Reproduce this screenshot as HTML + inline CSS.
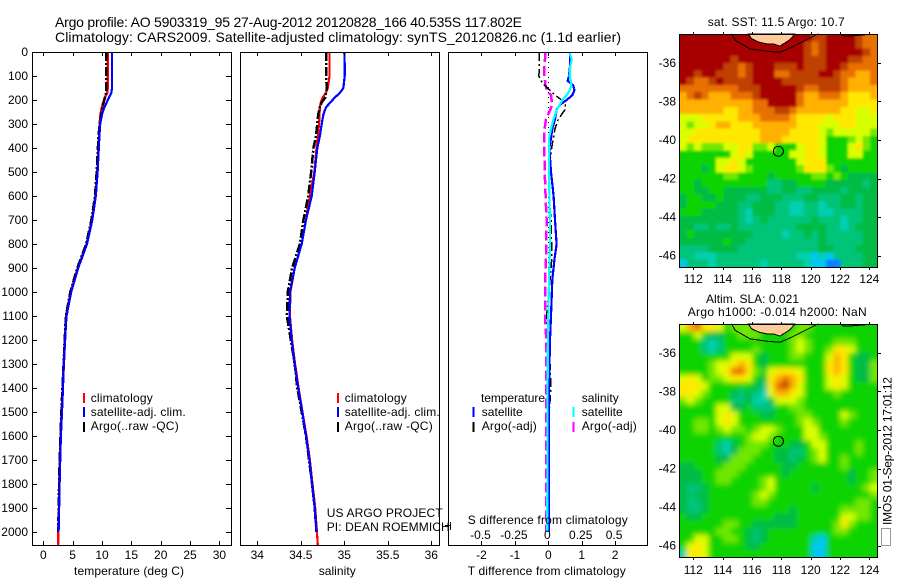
<!DOCTYPE html>
<html lang="en">
<head>
<meta charset="utf-8">
<title>Argo profile 5903319_95</title>
<style>
html,body{margin:0;padding:0;background:#fff;}
svg{display:block;font-family:"Liberation Sans",sans-serif;font-size:12px;fill:#000;}
text{fill:#000;}
</style>
</head>
<body>
<svg id="chart" xmlns="http://www.w3.org/2000/svg" width="900" height="580" viewBox="0 0 900 580" shape-rendering="crispEdges">
<defs>
<filter id="blur-sst" x="-5%" y="-5%" width="110%" height="110%"><feGaussianBlur stdDeviation="1.3"/></filter>
<filter id="blur-sla" x="-5%" y="-5%" width="110%" height="110%"><feGaussianBlur stdDeviation="2.6"/></filter>
<clipPath id="clip-sst"><rect x="679" y="34" width="198" height="233"/></clipPath>
<clipPath id="clip-sla"><rect x="679" y="324" width="198" height="233"/></clipPath>
</defs>
<rect x="0" y="0" width="900" height="580" fill="#fff"/>
<g id="layer-maps"></g>
<g id="layer-profiles"></g>

<text x="55" y="27" font-size="14" textLength="467">Argo profile: AO 5903319_95 27-Aug-2012 20120828_166 40.535S 117.802E</text>
<text x="55" y="42" font-size="14" textLength="566">Climatology: CARS2009. Satellite-adjusted climatology: synTS_20120826.nc (1.1d earlier)</text>

<text x="74" y="575" textLength="110">temperature (deg C)</text>
<text x="318.7" y="575" textLength="37">salinity</text>
<text x="467.7" y="575" textLength="158">T difference from climatology</text>
<text x="467.7" y="524" textLength="160">S difference from climatology</text>

<g>
<line x1="84" x2="84" y1="393" y2="403" stroke="#f00" stroke-width="2"/>
<text x="90.7" y="402" textLength="62">climatology</text>
<line x1="84" x2="84" y1="407" y2="417" stroke="#00f" stroke-width="2"/>
<text x="90.7" y="416" textLength="95">satellite-adj. clim.</text>
<line x1="84" x2="84" y1="422" y2="432" stroke="#000" stroke-width="2"/>
<text x="90.7" y="430" textLength="88">Argo(..raw -QC)</text>
</g>

<g>
<line x1="338" x2="338" y1="393" y2="403" stroke="#f00" stroke-width="2"/>
<text x="344.7" y="402" textLength="62">climatology</text>
<line x1="338" x2="338" y1="407" y2="417" stroke="#00f" stroke-width="2"/>
<text x="344.7" y="416" textLength="95">satellite-adj. clim.</text>
<line x1="338" x2="338" y1="422" y2="432" stroke="#000" stroke-width="2"/>
<text x="344.7" y="430" textLength="88">Argo(..raw -QC)</text>
</g>

<g>
<text x="481" y="402" textLength="64">temperature</text>
<line x1="473.5" x2="473.5" y1="407" y2="417" stroke="#00f" stroke-width="2"/>
<text x="481.7" y="416" textLength="41">satellite</text>
<line x1="473.5" x2="473.5" y1="422" y2="432" stroke="#000" stroke-width="2"/>
<text x="481.7" y="430" textLength="55">Argo(-adj)</text>
<text x="581.7" y="402" textLength="37">salinity</text>
<line x1="573.7" x2="573.7" y1="407" y2="417" stroke="#0ff" stroke-width="2"/>
<text x="581.7" y="416" textLength="41">satellite</text>
<line x1="573.7" x2="573.7" y1="422" y2="432" stroke="#f0f" stroke-width="2"/>
<text x="581.7" y="430" textLength="55">Argo(-adj)</text>
</g>

<text x="326.7" y="517" textLength="116">US ARGO PROJECT</text>
<text x="326.7" y="531" textLength="123">PI: DEAN ROEMMICH</text>

<path d="M445 525.5H450.5M450.5 522V530" stroke="#000" fill="none"/>

<text x="707.7" y="26" textLength="137">sat. SST: 11.5 Argo: 10.7</text>
<text x="706" y="303" textLength="93">Altim. SLA: 0.021</text>
<text x="687.7" y="316" textLength="179">Argo h1000: -0.014 h2000: NaN</text>

<rect x="881.5" y="528.5" width="9" height="17" fill="#fff" stroke="#333" stroke-dasharray="1 1"/>
<text transform="translate(891.5,525) rotate(-90)" x="0" y="0" textLength="148">IMOS 01-Sep-2012 17:01:12</text>
</svg>

<script>
// ---------- profile data ----------
const depthTicks = [0,100,200,300,400,500,600,700,800,900,1000,1100,1200,1300,1400,1500,1600,1700,1800,1900,2000];
const tempTicks = [0,5,10,15,20,25,30];
const salTicks = [34,34.5,35,35.5,36];
const tDiffTicks = [-2,-1,0,1,2];
const sDiffTicks = [-0.5,-0.25,0,0.25,0.5];
const tDiffTickLabels = ['-2','-1','0','1','2'];
const sDiffTickLabels = ['-0.5','-0.25','0','0.25','0.5'];

const profileDepths = [0,50,100,150,170,190,210,230,260,300,350,400,500,600,700,800,900,1000,1100,1200,1300,1400,1500,1600,1700,1800,1900,2000];
const climDepths = [0,50,100,150,170,190,210,230,260,300,350,400,500,600,700,800,900,1000,1100,1200,1300,1400,1500,1600,1700,1800,1900,2000,2054];

const tempClim = [11,11,11,10.95,10.9,10.5,10.2,10,9.75,9.6,9.5,9.4,9.2,8.9,8.3,7.4,5.9,4.7,3.9,3.7,3.5,3.3,3.13,2.96,2.84,2.73,2.67,2.56,2.5];
const tempSat = [11.7,11.7,11.7,11.7,11.6,11.2,10.8,10.4,10,9.7,9.55,9.45,9.25,8.95,8.35,7.45,5.95,4.75,3.95,3.7,3.5,3.35,3.18,3,2.88,2.78,2.7,2.6];
const tempArgo = [10.7,10.7,10.7,10.7,10.7,10.5,10.3,10,9.9,9.6,9.4,9.3,9.1,8.8,8.2,7.3,5.8,4.6,3.85,3.65,3.45,3.25,3.08,2.93,2.8,2.7,2.63,2.53];

const salClim = [34.83,34.83,34.83,34.81,34.79,34.75,34.73,34.72,34.715,34.71,34.695,34.68,34.655,34.605,34.56,34.51,34.43,34.38,34.375,34.4,34.435,34.475,34.52,34.565,34.605,34.635,34.665,34.685,34.695];
const salSat = [35,35.005,35.005,34.99,34.95,34.89,34.84,34.79,34.76,34.74,34.72,34.69,34.66,34.625,34.56,34.51,34.43,34.376,34.37,34.395,34.43,34.47,34.517,34.56,34.6,34.63,34.66,34.68];
const salArgo = [34.79,34.79,34.79,34.8,34.79,34.78,34.74,34.72,34.7,34.69,34.675,34.645,34.62,34.585,34.53,34.49,34.4,34.35,34.34,34.385,34.43,34.46,34.51,34.56,34.595,34.63,34.66,34.68];

const diffDepths = [0,30,60,100,120,140,160,180,200,220,240,280,320,360,400,500,600,700,800,870,950,1100,1200,1400,1600,1800,2000];
const tDiffSat = [.65,.65,.65,.62,.58,.75,.78,.72,.55,.35,.25,.2,.12,.08,.03,.08,.16,.2,.25,.18,.12,.08,.05,.02,.02,.02,.02];
const tDiffArgo = [-.27,-.27,-.27,-.28,-.22,-.1,.05,.2,.4,.5,.5,.3,.2,.15,.1,.02,.02,.08,.1,.1,.05,-.05,.02,.08,-.03,-.03,-.03];
const sDiffSat = [.157,.175,.165,.16,.168,.172,.16,.138,.105,.085,.065,.04,.02,.005,.005,.005,.008,.012,.012,.01,.005,0,-.003,-.005,-.006,-.007,-.008];
const sDiffArgo = [-.025,-.025,-.03,-.03,-.025,-.02,-.01,.02,.025,.03,.015,-.017,-.028,-.03,-.03,-.027,-.02,-.013,-.015,-.018,-.025,-.025,-.015,-.015,-.017,-.017,-.015];

// ---------- map data (colour-class level per grid cell, north to south) ----------
const lonTicks = [112,114,116,118,120,122,124];
const latTicks = [-36,-38,-40,-42,-44,-46];
const floatLon = 117.802;
const floatLat = -40.535;

const sstLevels = [
[12,12,12,12,12,12,12,12,12,12,12,12,12,12,12,12,12,12,11,11,12,12,12,12,11,10,10],
[12,12,12,12,12,12,12,12,12,12,12,12,12,12,12,12,12,11,10,11,12,12,12,12,11,10,10],
[12,12,12,12,12,12,12,12,12,12,12,12,12,12,12,12,12,11,10,11,12,12,12,12,12,11,10],
[12,12,12,12,12,12,12,11,12,12,12,12,12,12,12,12,12,11,11,11,12,12,12,11,11,10,10],
[12,12,12,12,12,12,11,11,10,11,12,12,12,11,11,11,12,11,11,11,12,12,11,10,10,10,10],
[12,12,11,12,12,11,11,11,10,11,12,12,12,10,10,11,11,11,11,12,12,11,10,10,9,9,10],
[12,11,10,10,11,12,11,11,11,11,12,12,12,12,11,11,11,11,11,11,11,11,10,9,9,9,10],
[10,10,10,10,10,10,10,10,11,11,11,12,12,12,12,12,11,10,10,11,11,11,10,9,9,9,9],
[9,10,11,10,9,9,9,10,10,10,11,12,12,12,12,12,10,9,9,10,10,10,9,8,8,8,9],
[9,9,9,9,9,9,9,9,9,9,10,10,12,12,12,12,10,9,9,9,9,9,9,8,8,8,8],
[9,9,9,9,9,9,8,8,9,9,10,10,10,11,11,10,9,9,9,9,9,9,8,8,7,7,8],
[7,7,7,8,8,8,8,8,9,9,9,10,10,10,10,9,8,8,8,8,7,8,8,8,7,7,7],
[7,6,7,7,8,9,9,8,8,8,9,9,9,9,9,9,8,8,8,7,7,7,8,8,7,7,7],
[7,7,8,8,8,8,8,8,8,8,8,9,9,9,9,8,8,8,8,7,6,7,7,7,7,7,6],
[7,8,8,8,8,8,8,8,8,8,8,9,9,9,8,8,8,8,8,7,5,5,5,6,7,6,5],
[7,6,7,6,6,6,7,7,8,8,6,6,7,5,5,5,7,8,8,7,5,5,5,7,8,6,5],
[5,5,5,5,5,5,5,7,8,7,5,5,5,5,5,7,7,8,8,7,5,5,5,7,7,5,5],
[5,5,5,5,5,7,7,8,7,5,5,5,5,5,5,5,7,8,8,8,5,5,5,5,5,5,5],
[5,5,5,4,5,7,8,8,7,6,5,5,5,5,5,5,6,8,8,8,6,5,4,5,5,5,5],
[5,5,5,5,5,5,6,6,5,5,5,5,4,5,5,5,5,5,6,6,5,6,5,4,4,4,4],
[5,5,4,5,5,5,5,5,5,5,5,5,3,3,4,4,5,5,5,5,4,4,4,4,4,3,4],
[5,5,4,4,5,5,4,4,4,4,4,4,3,3,4,4,3,3,4,4,4,4,3,4,4,4,4],
[4,5,5,4,4,5,4,4,4,3,3,4,4,4,3,3,3,4,4,3,3,3,4,4,3,4,4],
[4,5,5,5,5,4,4,4,3,3,4,4,4,3,3,2,2,3,3,2,3,3,4,4,3,4,4],
[5,5,5,4,4,4,4,4,3,2,4,4,4,3,3,2,2,3,3,2,2,3,3,3,3,4,4],
[4,4,4,4,4,4,4,4,3,2,3,4,3,3,3,3,3,3,4,3,3,3,2,3,3,4,4],
[4,4,3,3,4,3,3,4,3,3,3,3,3,3,3,3,4,4,4,4,3,3,2,3,4,4,4],
[4,5,4,4,4,4,4,4,4,4,3,3,3,3,2,3,3,4,3,4,3,3,3,3,3,4,4],
[4,4,4,4,4,4,5,4,4,3,3,3,3,3,3,3,3,3,3,4,3,3,3,3,3,4,4],
[3,3,3,3,4,4,4,4,3,3,3,3,3,3,3,3,3,3,3,4,4,3,3,3,4,4,4],
[3,3,2,2,2,3,3,3,3,3,3,3,3,3,3,3,2,2,1,2,1,3,3,3,3,4,4],
[1,3,3,3,2,3,3,3,3,3,3,2,3,3,3,3,3,2,1,1,0,0,3,3,3,4,4]
];

const slaLevels = [
[7,9,10,8,8,7,5,6,6,6,5,5,5,5,5,5,6,6,5,5,5,5,5,5,5,5,5],
[5,5,7,5,4,4,5,5,6,6,6,5,5,5,5,6,6,5,5,5,5,5,5,5,5,5,5],
[5,5,5,3,2,3,5,5,5,5,5,5,5,5,5,6,7,6,5,5,5,6,6,6,5,5,5],
[5,5,5,3,2,3,5,5,5,5,6,5,5,5,5,6,7,6,5,5,6,8,8,7,5,5,5],
[5,5,5,5,5,5,5,7,7,7,5,4,5,5,5,6,6,5,5,5,7,9,8,5,4,4,5],
[5,5,5,5,6,7,7,8,9,8,5,4,5,5,5,5,5,5,5,5,8,9,8,5,4,4,6],
[5,5,5,5,6,7,8,10,10,8,6,5,7,8,8,8,7,5,5,5,8,9,8,5,4,4,6],
[7,8,7,5,6,6,7,8,8,7,5,4,8,9,10,9,8,5,5,5,7,8,7,5,4,4,6],
[8,8,8,7,5,5,5,5,5,5,4,3,8,10,11,9,7,5,5,5,7,8,7,5,5,5,5],
[8,8,7,6,5,5,5,4,3,4,3,2,7,9,9,8,7,5,5,5,5,6,5,5,5,5,5],
[6,7,6,5,5,5,5,3,3,4,2,2,4,7,7,7,6,5,5,5,5,5,5,5,5,5,5],
[5,5,5,5,5,7,7,4,4,5,3,3,3,5,5,6,6,5,5,5,5,5,5,5,5,5,5],
[5,5,5,5,5,7,8,7,5,5,5,4,4,5,5,5,6,6,5,5,5,5,7,6,5,5,5],
[5,5,6,6,5,7,8,7,5,5,5,5,5,5,5,5,6,7,6,5,5,5,6,5,5,5,5],
[5,5,6,6,5,6,7,6,6,5,6,7,7,6,5,5,5,7,7,5,5,5,5,5,5,5,5],
[5,5,5,5,5,5,5,5,5,6,7,7,6,5,5,5,5,7,7,6,5,5,5,5,5,5,5],
[5,5,5,5,5,3,2,4,5,6,6,6,5,5,5,4,4,5,7,7,5,5,5,5,6,5,5],
[5,5,5,5,5,3,2,4,6,6,6,5,5,4,4,3,3,5,6,7,5,5,5,5,6,5,5],
[5,5,5,5,5,4,4,6,6,6,5,5,5,4,4,3,4,5,6,7,5,5,6,5,5,5,5],
[4,4,5,5,5,5,6,6,6,5,5,5,5,5,4,4,5,5,5,5,5,5,6,5,5,5,5],
[4,4,4,5,5,6,6,6,5,5,5,5,5,5,4,5,5,5,5,5,5,5,5,4,5,5,6],
[4,4,4,5,5,6,6,5,5,5,5,6,7,5,5,5,5,5,5,5,5,5,5,4,5,5,6],
[4,3,3,4,5,5,5,5,5,5,5,6,7,5,5,5,5,5,4,5,5,5,5,5,5,6,7],
[4,3,4,4,5,5,5,5,5,5,6,7,6,5,5,5,5,5,5,5,5,5,5,5,5,5,6],
[4,3,3,4,5,5,5,5,5,5,6,6,5,5,5,5,5,5,5,5,5,5,5,5,6,6,5],
[4,3,3,4,5,5,5,5,5,5,5,5,5,5,5,4,5,5,5,5,5,5,6,6,6,6,5],
[5,4,4,5,5,5,5,5,5,5,5,5,5,4,4,4,5,5,5,5,5,5,7,7,6,6,5],
[5,5,5,5,5,5,6,6,5,5,4,4,4,4,4,4,5,5,5,5,5,6,8,6,5,5,5],
[5,5,5,5,5,6,6,5,5,4,3,4,5,5,5,5,5,5,5,5,5,6,6,5,5,5,5],
[5,5,7,7,5,5,6,6,5,4,3,4,5,5,5,5,5,5,2,1,5,5,5,5,5,5,5],
[5,7,8,7,5,5,5,5,5,4,4,5,5,5,5,5,5,5,1,1,5,5,5,5,5,5,5],
[2,8,8,7,5,5,5,5,5,5,5,5,5,5,5,5,5,5,1,1,5,5,5,5,5,5,5]
];

const landLon = [115.75,115.98,116.5,117,117.45,117.9,118.25,118.6,118.93];
const landLat = [-34.49,-34.75,-34.93,-35.01,-35.01,-35.13,-34.96,-34.79,-34.49];
const coastLon = [114.61,114.84,115.86,117,117.9,118.6,119.5,120.52];
const coastLat = [-34.49,-34.82,-35.27,-35.39,-35.45,-35.22,-34.88,-34.49];
const coast2Lon = [122.11,122.45,123.82];
const coast2Lat = [-34.58,-34.62,-34.53];

const levelColors = ['#1080ff','#00c8f0','#00d0b0','#00c478','#00bc44','#10d400','#70e800','#d8ff00','#ffe800','#ffb000','#e87000','#c04000','#a80000'];

// ---------- scales ----------
const SVGNS = 'http://www.w3.org/2000/svg';
const profileTop = 52, profileBottom = 545;
const depthY = d => profileTop + 0.24 * d;
const tempX = t => 43.3 + 5.87 * t;
const salX = s => 257.3 + 87 * (s - 34);
const tDiffX = t => 548.3 + 33.4 * t;
const sDiffX = s => 548.3 + 133.6 * s;
const lonX = lon => 693.3 + (lon - 112) * 14.67;
const latY = (lat, top) => top + (-34.5 - lat) * 19.27;

function make(parent, tag, attrs, content) {
  const el = document.createElementNS(SVGNS, tag);
  for (const k in attrs) el.setAttribute(k, attrs[k]);
  if (content !== undefined) el.textContent = content;
  parent.appendChild(el);
  return el;
}

const profiles = document.getElementById('layer-profiles');
const maps = document.getElementById('layer-maps');

function drawFrame(x, width) {
  const frame = make(profiles, 'rect', {x: x + 0.5, y: profileTop + 0.5, width: width, height: profileBottom - profileTop, fill: 'none', stroke: '#000'});
  
  
}

function drawXTicks(values, scale, labels, labelY) {
  values.forEach((v, i) => {
    const x = Math.round(scale(v)) + 0.5;
    const top = make(profiles, 'line', {x1: x, x2: x, y1: profileTop, y2: profileTop + 4, stroke: '#000'});
    
    
    const bottom = make(profiles, 'line', {x1: x, x2: x, y1: profileBottom - 4, y2: profileBottom, stroke: '#000'});
    
    
    const label = make(profiles, 'text', {x: scale(v), y: labelY, 'text-anchor': 'middle'}, labels[i]);
    
    
  });
}

function drawCurve(depths, values, scale, color, width, dash, name) {
  const pts = values.map((v, i) => scale(v).toFixed(1) + ',' + depthY(depths[i]).toFixed(1)).join(' ');
  const curve = make(profiles, 'polyline', {points: pts, fill: 'none', stroke: color, 'stroke-width': width, 'stroke-dasharray': dash || 'none'});
  
  
}

// temperature panel
drawCurve(climDepths, tempClim, tempX, '#f00', 2.5, '', 'temperature-climatology-line');
drawCurve(profileDepths, tempArgo, tempX, '#000', 2.5, '9 2 2 2', 'temperature-argo-line');
drawCurve(profileDepths, tempSat, tempX, '#00f', 2.2, '', 'temperature-satellite-line');
drawFrame(32, 199);
drawXTicks(tempTicks, tempX, tempTicks, 559);
depthTicks.forEach(d => {
  const y = Math.round(depthY(d)) + 0.5;
  const left = make(profiles, 'line', {x1: 32, x2: 37, y1: y, y2: y, stroke: '#000'});
  
  
  const right = make(profiles, 'line', {x1: 226, x2: 231, y1: y, y2: y, stroke: '#000'});
  
  
  const label = make(profiles, 'text', {x: 28, y: depthY(d) + 4, 'text-anchor': 'end'}, d);
  
  
});

// salinity panel
drawCurve(climDepths, salClim, salX, '#f00', 2.2, '', 'salinity-climatology-line');
drawCurve(profileDepths, salArgo, salX, '#000', 2.5, '9 2 2 2', 'salinity-argo-line');
drawCurve(profileDepths, salSat, salX, '#00f', 2.2, '', 'salinity-satellite-line');
drawFrame(240, 199);
drawXTicks(salTicks, salX, salTicks, 559);

// difference panel
const zeroLine = make(profiles, 'line', {x1: tDiffX(0), x2: tDiffX(0), y1: depthY(0), y2: depthY(2000), stroke: '#000', 'stroke-dasharray': '1 4'});


drawCurve(diffDepths, sDiffArgo, sDiffX, '#f0f', 2.5, '10 4', 's-difference-argo-line');
drawCurve(diffDepths, tDiffArgo, tDiffX, '#000', 1.5, '9 3 2 3', 't-difference-argo-line');
drawCurve(diffDepths, tDiffSat, tDiffX, '#00f', 2.2, '', 't-difference-satellite-line');
drawCurve(diffDepths, sDiffSat, sDiffX, '#0ff', 2.2, '', 's-difference-satellite-line');
drawFrame(448, 199);
drawXTicks(tDiffTicks, tDiffX, tDiffTickLabels, 559);
sDiffTicks.forEach((v, i) => {
  const label = make(profiles, 'text', {x: sDiffX(v) - 1, y: 539, 'text-anchor': 'middle'}, sDiffTickLabels[i]);
  
  
});

// maps
function drawMap(levels, top, name, labelY, key) {
  const left = 679, width = 198, height = 233;
  const lonW = 111.05, lonE = 124.54;
  const latN = -34.5, latS = -46.59;
  const rows = levels.length;
  const outer = make(maps, 'g', {'clip-path': 'url(#clip-' + key + ')'});
  
  
  const grid = make(outer, 'g', {filter: 'url(#blur-' + key + ')'});
  
  
  levels.forEach((row, r) => {
    row.forEach((level, c) => {
      const lonA = lonW + (lonE - lonW) * c / row.length;
      const lonB = lonW + (lonE - lonW) * (c + 1) / row.length;
      const latA = latN + (latS - latN) * r / rows;
      const latB = latN + (latS - latN) * (r + 1) / rows;
      // edge cells run past the clip so the smoothing does not fade at the frame
      const xA = lonX(lonA) - (c === 0 ? 8 : 0);
      const xB = lonX(lonB) + (c === row.length - 1 ? 8 : 0);
      const yA = latY(latA, top) - (r === 0 ? 8 : 0);
      const yB = latY(latB, top) + (r === rows - 1 ? 8 : 0);
      const cell = make(grid, 'rect', {x: xA.toFixed(2), y: yA.toFixed(2), width: (xB - xA + 0.5).toFixed(2), height: (yB - yA + 0.5).toFixed(2), fill: levelColors[level]});
      
      
    });
  });

  const landPts = landLon.map((lon, i) => lonX(lon).toFixed(1) + ',' + latY(landLat[i], top).toFixed(1)).join(' ');
  const land = make(maps, 'polygon', {points: landPts, fill: '#ffcc99', stroke: '#000', 'stroke-width': 1});
  
  

  const coastPts = coastLon.map((lon, i) => lonX(lon).toFixed(1) + ',' + latY(coastLat[i], top).toFixed(1)).join(' ');
  const coast = make(maps, 'polyline', {points: coastPts, fill: 'none', stroke: '#000'});
  
  

  const coast2Pts = coast2Lon.map((lon, i) => lonX(lon).toFixed(1) + ',' + latY(coast2Lat[i], top).toFixed(1)).join(' ');
  const coast2 = make(maps, 'polyline', {points: coast2Pts, fill: 'none', stroke: '#000'});
  
  

  const marker = make(maps, 'circle', {cx: lonX(floatLon).toFixed(1), cy: (latY(floatLat, top) + 1).toFixed(1), r: 5, fill: 'none', stroke: '#000'});
  
  

  const border = make(maps, 'rect', {x: left + 0.5, y: top + 0.5, width: width, height: height, fill: 'none', stroke: '#000'});
  
  

  lonTicks.forEach(lon => {
    const x = Math.round(lonX(lon)) + 0.5;
    const tickTop = make(maps, 'line', {x1: x, x2: x, y1: top - 2, y2: top, stroke: '#000'});
    
    
    const tickBottom = make(maps, 'line', {x1: x, x2: x, y1: top + height + 1, y2: top + height + 3, stroke: '#000'});
    
    
    const label = make(maps, 'text', {x: lonX(lon), y: labelY, 'text-anchor': 'middle'}, lon);
    
    
  });
  latTicks.forEach(lat => {
    const y = Math.round(latY(lat, top)) + 0.5;
    const tickRight = make(maps, 'line', {x1: left + width + 1, x2: left + width + 4, y1: y, y2: y, stroke: '#000'});
    
    
    const label = make(maps, 'text', {x: 676, y: latY(lat, top) + 4, 'text-anchor': 'end'}, lat);
    
    
  });
}

drawMap(sstLevels, 34, 'sst-map', 283, 'sst');
drawMap(slaLevels, 324, 'sla-map', 574, 'sla');
</script>
</body>
</html>
